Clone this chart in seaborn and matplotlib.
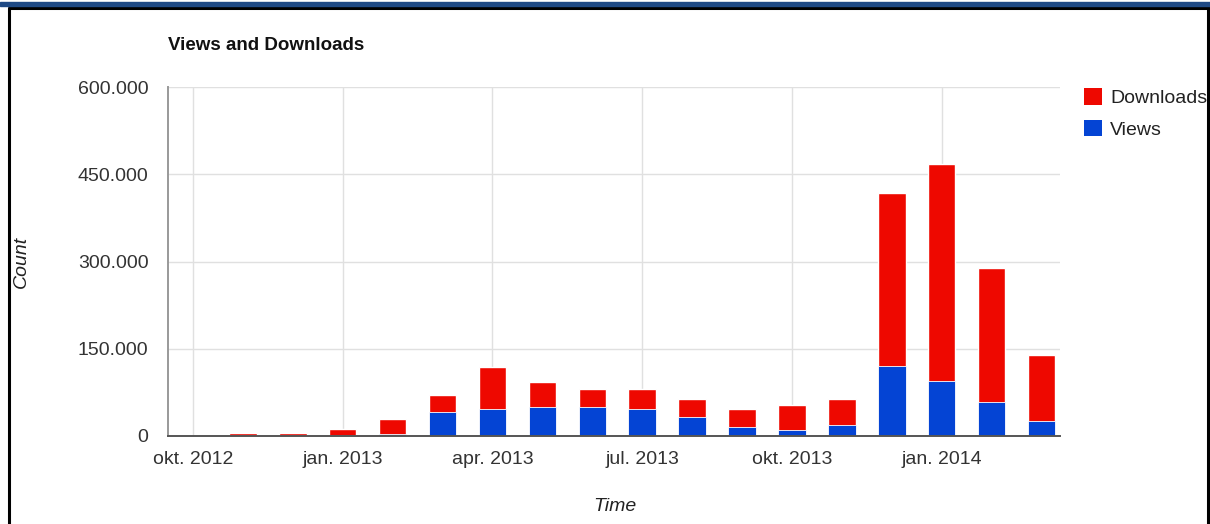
import numpy as np
import pandas as pd
import matplotlib
matplotlib.use("Agg")
import matplotlib.pyplot as plt
import seaborn as sns
from matplotlib.patches import Rectangle, Patch
from matplotlib.lines import Line2D
from matplotlib.ticker import FuncFormatter

# Monthly data, okt. 2012 .. mar. 2014
months = ['2012-10', '2012-11', '2012-12', '2013-01', '2013-02', '2013-03',
          '2013-04', '2013-05', '2013-06', '2013-07', '2013-08', '2013-09',
          '2013-10', '2013-11', '2013-12', '2014-01', '2014-02', '2014-03']
views = [0, 0, 0, 1000, 3000, 41000, 46000, 50000, 50000, 46000, 33000,
         16000, 10000, 19000, 120000, 94000, 59000, 25000]
downloads = [0, 4500, 4500, 11000, 26000, 29000, 72000, 42000, 31000, 35000,
             31000, 30000, 43000, 45000, 298000, 373000, 230000, 114000]
tick_pos = [0, 3, 6, 9, 12, 15]
tick_labels = ['okt. 2012', 'jan. 2013', 'apr. 2013', 'jul. 2013',
               'okt. 2013', 'jan. 2014']
y_ticks = [0, 150000, 300000, 450000, 600000]

df = pd.DataFrame({'month': months, 'views': views, 'downloads': downloads})
df['total'] = df['views'] + df['downloads']

RED = '#ee0800'
BLUE = '#0444d4'

sns.set_theme(style='white')
plt.rcParams['font.family'] = ['Liberation Sans', 'DejaVu Sans']

fig = plt.figure(figsize=(12.1, 5.24), dpi=100)
ax = fig.add_axes([168 / 1210, 1 - 436 / 524, 892 / 1210, 349 / 524])

# stacked bars: total in red, views in blue on top of it
sns.barplot(data=df, x='month', y='total', order=months, color=RED,
            width=0.55, saturation=1, ax=ax, zorder=3)
sns.barplot(data=df, x='month', y='views', order=months, color=BLUE,
            width=0.55, saturation=1, ax=ax, zorder=4,
            edgecolor='white', linewidth=0.6)

ax.set_xlim(-0.5, 17.37)
ax.set_ylim(0, 600000)
ax.set_yticks(y_ticks)
ax.yaxis.set_major_formatter(FuncFormatter(lambda v, _: f'{int(v):,}'.replace(',', '.')))
ax.set_xticks(tick_pos)
ax.set_xticklabels(tick_labels)

ax.grid(True, axis='both', color='#e0e0e0', linewidth=1, zorder=0)
ax.set_axisbelow(True)
for s in ['top', 'right']:
    ax.spines[s].set_visible(False)
ax.spines['left'].set_color('#999999')
ax.spines['left'].set_linewidth(1.4)
ax.spines['bottom'].set_color('#555555')
ax.spines['bottom'].set_linewidth(1.4)
ax.spines['left'].set_zorder(5)
ax.spines['bottom'].set_zorder(5)

ax.tick_params(axis='both', length=0, labelsize=14, labelcolor='#333333')
ax.tick_params(axis='x', pad=11)
ax.tick_params(axis='y', pad=14)

ax.set_xlabel('Time', fontsize=14, style='italic', color='#222222')
ax.set_ylabel('Count', fontsize=14, style='italic', color='#222222')
ax.xaxis.set_label_coords(0.501, -0.178)
ax.yaxis.set_label_coords(-0.155, 0.5)

fig.text(168 / 1210, 1 - 45 / 524, 'Views and Downloads', fontsize=13.5,
         fontweight='bold', color='#111111', va='center', ha='left')

handles = [Patch(facecolor=RED, edgecolor='none', label='Downloads'),
           Patch(facecolor=BLUE, edgecolor='none', label='Views')]
fig.legend(handles=handles, loc='upper left',
           bbox_to_anchor=(1080 / 1210, 1 - 84 / 524), frameon=False,
           fontsize=14, handlelength=0.95, handleheight=0.95,
           handletextpad=0.4, labelspacing=0.65, borderaxespad=0,
           borderpad=0.2, labelcolor='#222222')

# page decoration: navy band and black frame
fig.add_artist(Rectangle((0, 1 - 5.5 / 524), 1, 3.5 / 524,
                         transform=fig.transFigure, color='#1f4a85', zorder=10))
fig.add_artist(Line2D([8.5 / 1210, 1208.5 / 1210], [1 - 8 / 524, 1 - 8 / 524],
                      transform=fig.transFigure, color='black', linewidth=2.2))
fig.add_artist(Line2D([9 / 1210, 9 / 1210], [0, 1 - 8 / 524],
                      transform=fig.transFigure, color='black', linewidth=2.2))
fig.add_artist(Line2D([1208 / 1210, 1208 / 1210], [0, 1 - 8 / 524],
                      transform=fig.transFigure, color='black', linewidth=2.2))

fig.savefig('out.png', dpi=100)
